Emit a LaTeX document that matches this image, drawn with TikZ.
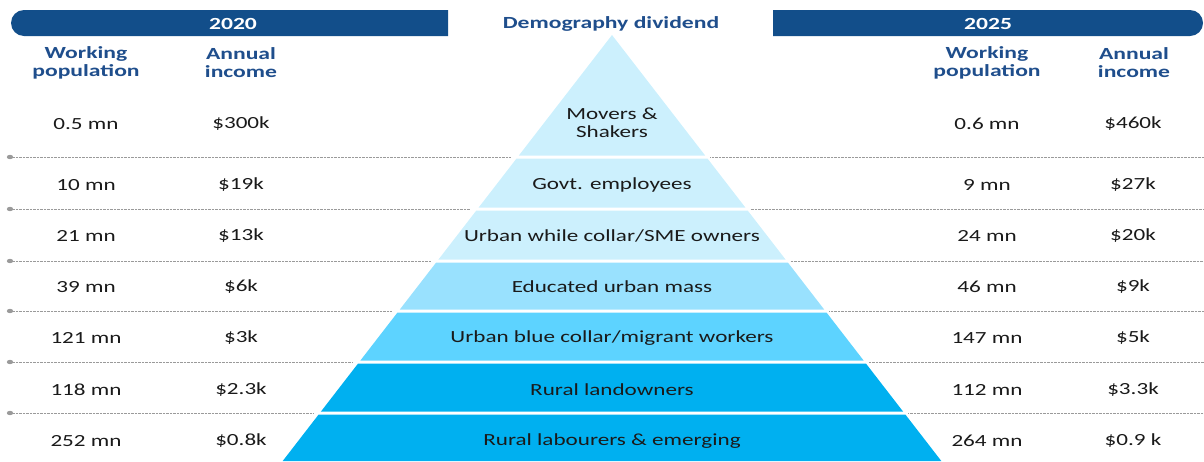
\documentclass[tikz,border=0pt]{standalone}
\usepackage{fontspec}
\setmainfont{Carlito}[FakeStretch=1.36]
\newfontfamily\hdfont{Carlito}[FakeStretch=1.39]
\definecolor{bar}{HTML}{124E8A}
\definecolor{hdr}{HTML}{1F4E8C}
\definecolor{tA}{HTML}{CCF0FD}
\definecolor{tB}{HTML}{99E1FE}
\definecolor{tC}{HTML}{5DD3FF}
\definecolor{tD}{HTML}{00B0F0}
\definecolor{txt}{HTML}{1A1A1A}
\definecolor{dotc}{HTML}{9A9A9A}
\begin{document}
\begin{tikzpicture}[x=1pt,y=-1pt,
 num/.style={font=\fontsize{17}{18}\selectfont, text=txt, inner sep=0pt, anchor=center},
 hd/.style={font=\fontsize{17}{18}\selectfont\hdfont\bfseries, text=hdr, align=center, inner sep=0pt},
 yr/.style={font=\fontsize{17}{18}\selectfont\hdfont\bfseries, text=white, inner sep=0pt},
 lbl/.style={num, align=center},
 sep/.style={dotc, line width=0.6pt, dash pattern=on 0.7pt off 0.7pt}]
\useasboundingbox (0,0) rectangle (1204,461);
% header bars
\fill[bar] (448,10) [rounded corners=13pt]-- (11,10) -- (11,36) [sharp corners]-- (448,36) -- cycle;
\fill[bar] (773,10) [rounded corners=13pt]-- (1203,10) -- (1203,36) [sharp corners]-- (773,36) -- cycle;
\node[yr] (y20) at (233,24) {2020};
\node[yr] (y25) at (988,24) {2025};
\node[hd] (title) at (611,24) {Demography dividend};
\node[hd] (hwl) at (86,63) {Working\\population};
\node[hd] (hil) at (241,63) {Annual\\income};
\node[hd] (hwr) at (987,63) {Working\\population};
\node[hd] (hir) at (1134,63) {Annual\\income};
% pyramid tiers
\foreach \ya/\yb/\c in {35/155.5/tA, 158.5/207.5/tA, 210.5/259.5/tA, 262.5/309.5/tB, 312.5/360.5/tC, 363.5/411.5/tD, 414.5/461/tD}
  \fill[\c] ({612-0.773*(\ya-35)},\ya) -- ({612+0.773*(\ya-35)},\ya) -- ({612+0.773*(\yb-35)},\yb) -- ({612-0.773*(\yb-35)},\yb) -- cycle;
% separators
\foreach \y in {157,209,261,311,362,413}{
  \draw[sep] (13,\y) -- ({612-0.773*(\y-35)-7},\y);
  \draw[sep] ({612+0.773*(\y-35)+4},\y) -- (1204,\y);
  \fill[dotc] (10,\y) ellipse (3.2 and 2.2);
}
% pyramid labels
\node[lbl] (p1) at (612,123) {Movers \&\\Shakers};
\node[lbl] (p2) at (612,185) {Govt. employees};
\node[lbl] (p3) at (612,236) {Urban while collar/SME owners};
\node[lbl] (p4) at (612,287) {Educated urban mass};
\node[lbl] (p5) at (612,338) {Urban blue collar/migrant workers};
\node[lbl] (p6) at (612,390) {Rural landowners};
\node[lbl] (p7) at (612,441) {Rural labourers \& emerging};
% left columns
\node[num] (a1) at (86,124) {0.5 mn};
\node[num] (a2) at (86,185) {10 mn};
\node[num] (a3) at (86,236) {21 mn};
\node[num] (a4) at (86,287) {39 mn};
\node[num] (a5) at (86,338) {121 mn};
\node[num] (a6) at (86,390) {118 mn};
\node[num] (a7) at (86,441) {252 mn};
\node[num] (b1) at (241,124) {\$300k};
\node[num] (b2) at (241,185) {\$19k};
\node[num] (b3) at (241,236) {\$13k};
\node[num] (b4) at (241,287) {\$6k};
\node[num] (b5) at (241,338) {\$3k};
\node[num] (b6) at (241,390) {\$2.3k};
\node[num] (b7) at (241,441) {\$0.8k};
% right columns
\node[num] (c1) at (987,124) {0.6 mn};
\node[num] (c2) at (987,185) {9 mn};
\node[num] (c3) at (987,236) {24 mn};
\node[num] (c4) at (987,287) {46 mn};
\node[num] (c5) at (987,338) {147 mn};
\node[num] (c6) at (987,390) {112 mn};
\node[num] (c7) at (987,441) {264 mn};
\node[num] (d1) at (1133,124) {\$460k};
\node[num] (d2) at (1133,185) {\$27k};
\node[num] (d3) at (1133,236) {\$20k};
\node[num] (d4) at (1133,287) {\$9k};
\node[num] (d5) at (1133,338) {\$5k};
\node[num] (d6) at (1133,390) {\$3.3k};
\node[num] (d7) at (1133,441) {\$0.9 k};
\end{tikzpicture}
\end{document}
